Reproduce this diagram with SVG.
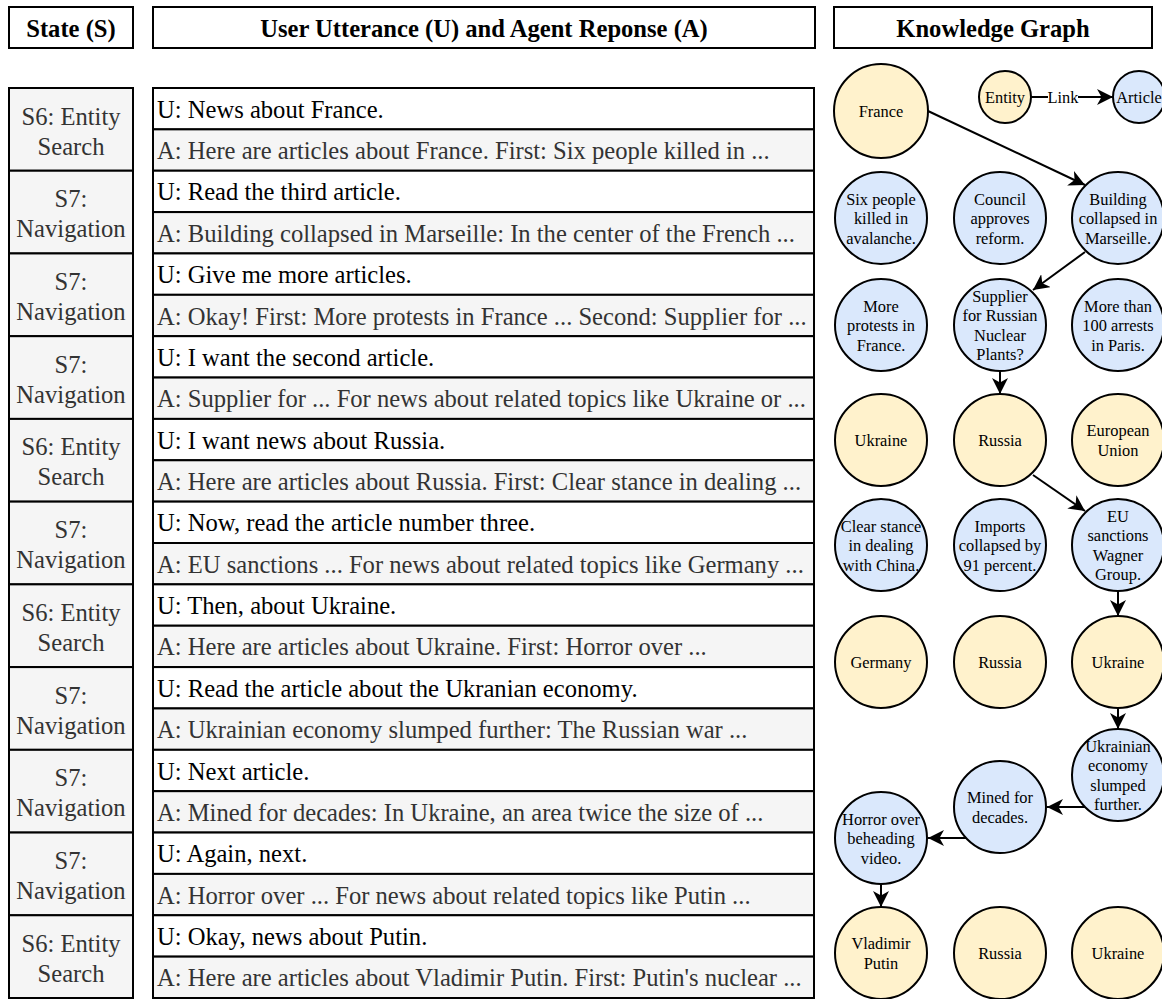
<svg xmlns="http://www.w3.org/2000/svg" width="1162" height="999" viewBox="0 0 1162 999" font-family="'Liberation Serif', 'Times New Roman', Times, 'DejaVu Serif', serif">
<defs>
<marker id="arr" viewBox="0 0 16 16" markerWidth="16" markerHeight="16" refX="16" refY="8" orient="auto" markerUnits="userSpaceOnUse">
<path d="M0,0 L16,8 L0,16 L4.5,8 Z" fill="#000"/>
</marker>
</defs>
<style>
text{font-family:'Liberation Serif','Times New Roman',Times,'DejaVu Serif',serif}
.hdr{fill:#fff;stroke:#000;stroke-width:2}
.ht{font-size:24.6px;font-weight:bold;fill:#000;text-anchor:middle;dominant-baseline:central}
.st{fill:#f5f5f5;stroke:#000;stroke-width:2}
.stt{font-size:24.6px;fill:#333;text-anchor:middle;dominant-baseline:central}
.u{fill:#fff;stroke:#000;stroke-width:2}
.a{fill:#f5f5f5;stroke:#000;stroke-width:2}
.ut{font-size:24.6px;fill:#000;dominant-baseline:central}
.at{font-size:24.6px;fill:#333;dominant-baseline:central}
.ent{fill:#fff2cc;stroke:#000;stroke-width:2}
.art{fill:#dae8fc;stroke:#000;stroke-width:2}
.ct{font-size:16.4px;fill:#000;text-anchor:middle;dominant-baseline:central}
.edge{stroke:#000;stroke-width:2;fill:none;marker-end:url(#arr)}
</style>
<rect width="1162" height="999" fill="#fff"/>

<g id="headers">
<rect class="hdr" x="9" y="7" width="124" height="41"/>
<text class="ht" x="71" y="28">State (S)</text>
<rect class="hdr" x="153" y="7" width="662" height="41"/>
<text class="ht" x="484" y="28">User Utterance (U) and Agent Reponse (A)</text>
<rect class="hdr" x="834" y="7" width="318" height="41"/>
<text class="ht" x="993" y="28">Knowledge Graph</text>
</g>

<g id="states">
<g id="state1"><rect class="st" x="9" y="88" width="124" height="82.73"/><text class="stt" x="71" y="116">S6: Entity</text><text class="stt" x="71" y="146">Search</text></g>
<g id="state2"><rect class="st" x="9" y="170.73" width="124" height="82.73"/><text class="stt" x="71" y="198.7">S7:</text><text class="stt" x="71" y="228.7">Navigation</text></g>
<g id="state3"><rect class="st" x="9" y="253.45" width="124" height="82.73"/><text class="stt" x="71" y="281.4">S7:</text><text class="stt" x="71" y="311.4">Navigation</text></g>
<g id="state4"><rect class="st" x="9" y="336.18" width="124" height="82.73"/><text class="stt" x="71" y="364.1">S7:</text><text class="stt" x="71" y="394.1">Navigation</text></g>
<g id="state5"><rect class="st" x="9" y="418.91" width="124" height="82.73"/><text class="stt" x="71" y="446.9">S6: Entity</text><text class="stt" x="71" y="476.9">Search</text></g>
<g id="state6"><rect class="st" x="9" y="501.64" width="124" height="82.73"/><text class="stt" x="71" y="529.6">S7:</text><text class="stt" x="71" y="559.6">Navigation</text></g>
<g id="state7"><rect class="st" x="9" y="584.36" width="124" height="82.73"/><text class="stt" x="71" y="612.3">S6: Entity</text><text class="stt" x="71" y="642.3">Search</text></g>
<g id="state8"><rect class="st" x="9" y="667.09" width="124" height="82.73"/><text class="stt" x="71" y="695.1">S7:</text><text class="stt" x="71" y="725.1">Navigation</text></g>
<g id="state9"><rect class="st" x="9" y="749.82" width="124" height="82.73"/><text class="stt" x="71" y="777.8">S7:</text><text class="stt" x="71" y="807.8">Navigation</text></g>
<g id="state10"><rect class="st" x="9" y="832.55" width="124" height="82.73"/><text class="stt" x="71" y="860.5">S7:</text><text class="stt" x="71" y="890.5">Navigation</text></g>
<g id="state11"><rect class="st" x="9" y="915.27" width="124" height="82.73"/><text class="stt" x="71" y="943.2">S6: Entity</text><text class="stt" x="71" y="973.2">Search</text></g>
</g>

<g id="dialogue">
<g id="r1"><rect class="u" x="153" y="88" width="661" height="41.36"/><text class="ut" x="157" y="109.2">U: News about France.</text></g>
<g id="r2"><rect class="a" x="153" y="129.36" width="661" height="41.36"/><text class="at" x="157" y="150.5">A: Here are articles about France. First: Six people killed in ...</text></g>
<g id="r3"><rect class="u" x="153" y="170.73" width="661" height="41.36"/><text class="ut" x="157" y="191.9">U: Read the third article.</text></g>
<g id="r4"><rect class="a" x="153" y="212.09" width="661" height="41.36"/><text class="at" x="157" y="233.3">A: Building collapsed in Marseille: In the center of the French ...</text></g>
<g id="r5"><rect class="u" x="153" y="253.45" width="661" height="41.36"/><text class="ut" x="157" y="274.6">U: Give me more articles.</text></g>
<g id="r6"><rect class="a" x="153" y="294.82" width="661" height="41.36"/><text class="at" x="157" y="316">A: Okay! First: More protests in France ... Second: Supplier for ...</text></g>
<g id="r7"><rect class="u" x="153" y="336.18" width="661" height="41.36"/><text class="ut" x="157" y="357.4">U: I want the second article.</text></g>
<g id="r8"><rect class="a" x="153" y="377.55" width="661" height="41.36"/><text class="at" x="157" y="398.7">A: Supplier for ... For news about related topics like Ukraine or ...</text></g>
<g id="r9"><rect class="u" x="153" y="418.91" width="661" height="41.36"/><text class="ut" x="157" y="440.1">U: I want news about Russia.</text></g>
<g id="r10"><rect class="a" x="153" y="460.27" width="661" height="41.36"/><text class="at" x="157" y="481.5">A: Here are articles about Russia. First: Clear stance in dealing ...</text></g>
<g id="r11"><rect class="u" x="153" y="501.64" width="661" height="41.36"/><text class="ut" x="157" y="522.8">U: Now, read the article number three.</text></g>
<g id="r12"><rect class="a" x="153" y="543.0" width="661" height="41.36"/><text class="at" x="157" y="564.2">A: EU sanctions ... For news about related topics like Germany ...</text></g>
<g id="r13"><rect class="u" x="153" y="584.36" width="661" height="41.36"/><text class="ut" x="157" y="605.5">U: Then, about Ukraine.</text></g>
<g id="r14"><rect class="a" x="153" y="625.73" width="661" height="41.36"/><text class="at" x="157" y="646.9">A: Here are articles about Ukraine. First: Horror over ...</text></g>
<g id="r15"><rect class="u" x="153" y="667.09" width="661" height="41.36"/><text class="ut" x="157" y="688.3">U: Read the article about the Ukranian economy.</text></g>
<g id="r16"><rect class="a" x="153" y="708.45" width="661" height="41.36"/><text class="at" x="157" y="729.6">A: Ukrainian economy slumped further: The Russian war ...</text></g>
<g id="r17"><rect class="u" x="153" y="749.82" width="661" height="41.36"/><text class="ut" x="157" y="771">U: Next article.</text></g>
<g id="r18"><rect class="a" x="153" y="791.18" width="661" height="41.36"/><text class="at" x="157" y="812.4">A: Mined for decades: In Ukraine, an area twice the size of ...</text></g>
<g id="r19"><rect class="u" x="153" y="832.55" width="661" height="41.36"/><text class="ut" x="157" y="853.7">U: Again, next.</text></g>
<g id="r20"><rect class="a" x="153" y="873.91" width="661" height="41.36"/><text class="at" x="157" y="895.1">A: Horror over ... For news about related topics like Putin ...</text></g>
<g id="r21"><rect class="u" x="153" y="915.27" width="661" height="41.36"/><text class="ut" x="157" y="936.5">U: Okay, news about Putin.</text></g>
<g id="r22"><rect class="a" x="153" y="956.64" width="661" height="41.36"/><text class="at" x="157" y="977.8">A: Here are articles about Vladimir Putin. First: Putin's nuclear ...</text></g>
</g>

<g id="connectors">
<line class="edge" x1="1031" y1="97" x2="1113" y2="97"/>
<line class="edge" x1="928" y1="111" x2="1085" y2="185"/>
<line class="edge" x1="1085" y1="252" x2="1033" y2="290"/>
<line class="edge" x1="1000" y1="371" x2="1000" y2="394"/>
<line class="edge" x1="1033" y1="475" x2="1085" y2="511"/>
<line class="edge" x1="1118" y1="591" x2="1118" y2="616"/>
<line class="edge" x1="1118" y1="708" x2="1118" y2="729"/>
<line class="edge" x1="1085" y1="807" x2="1047" y2="807"/>
<line class="edge" x1="966" y1="838" x2="928" y2="838"/>
<line class="edge" x1="881" y1="884" x2="881" y2="907"/>
<rect x="1048" y="87" width="30" height="20" fill="#fff"/>
<text class="ct" x="1063" y="97">Link</text>
</g>

<g id="legend-entity"><circle class="ent" cx="1005" cy="97" r="26"/><text class="ct" x="1005" y="97">Entity</text></g>
<g id="legend-article"><circle class="art" cx="1139" cy="97" r="26"/><text class="ct" x="1139" y="97">Article</text></g>

<g id="n-france"><circle class="ent" cx="881" cy="111" r="47"/><text class="ct" x="881" y="111">France</text></g>

<g id="n-six"><circle class="art" cx="881" cy="218" r="46"/><text class="ct" x="881"><tspan x="881" y="198.5">Six people</tspan><tspan x="881" y="218">killed in</tspan><tspan x="881" y="237.5">avalanche.</tspan></text></g>
<g id="n-council"><circle class="art" cx="1000" cy="218" r="46"/><text class="ct" x="1000"><tspan x="1000" y="198.5">Council</tspan><tspan x="1000" y="218">approves</tspan><tspan x="1000" y="237.5">reform.</tspan></text></g>
<g id="n-building"><circle class="art" cx="1118" cy="218" r="46"/><text class="ct" x="1118"><tspan x="1118" y="198.5">Building</tspan><tspan x="1118" y="218">collapsed in</tspan><tspan x="1118" y="237.5">Marseille.</tspan></text></g>

<g id="n-protests"><circle class="art" cx="881" cy="325" r="46"/><text class="ct" x="881"><tspan x="881" y="305.5">More</tspan><tspan x="881" y="325">protests in</tspan><tspan x="881" y="344.5">France.</tspan></text></g>
<g id="n-supplier"><circle class="art" cx="1000" cy="325" r="46"/><text class="ct" x="1000"><tspan x="1000" y="295.5">Supplier</tspan><tspan x="1000" y="315">for Russian</tspan><tspan x="1000" y="334.5">Nuclear</tspan><tspan x="1000" y="354">Plants?</tspan></text></g>
<g id="n-arrests"><circle class="art" cx="1118" cy="325" r="46"/><text class="ct" x="1118"><tspan x="1118" y="305.5">More than</tspan><tspan x="1118" y="325">100 arrests</tspan><tspan x="1118" y="344.5">in Paris.</tspan></text></g>

<g id="n-ukraine1"><circle class="ent" cx="881" cy="440" r="46"/><text class="ct" x="881" y="440">Ukraine</text></g>
<g id="n-russia1"><circle class="ent" cx="1000" cy="440" r="46"/><text class="ct" x="1000" y="440">Russia</text></g>
<g id="n-eu"><circle class="ent" cx="1118" cy="440" r="46"/><text class="ct" x="1118"><tspan x="1118" y="430">European</tspan><tspan x="1118" y="450">Union</tspan></text></g>

<g id="n-clear"><circle class="art" cx="881" cy="545" r="46"/><text class="ct" x="881"><tspan x="881" y="525.5">Clear stance</tspan><tspan x="881" y="545">in dealing</tspan><tspan x="881" y="564.5">with China.</tspan></text></g>
<g id="n-imports"><circle class="art" cx="1000" cy="545" r="46"/><text class="ct" x="1000"><tspan x="1000" y="525.5">Imports</tspan><tspan x="1000" y="545">collapsed by</tspan><tspan x="1000" y="564.5">91 percent.</tspan></text></g>
<g id="n-sanctions"><circle class="art" cx="1118" cy="545" r="46"/><text class="ct" x="1118"><tspan x="1118" y="515.5">EU</tspan><tspan x="1118" y="535">sanctions</tspan><tspan x="1118" y="554.5">Wagner</tspan><tspan x="1118" y="574">Group.</tspan></text></g>

<g id="n-germany"><circle class="ent" cx="881" cy="662" r="46"/><text class="ct" x="881" y="662">Germany</text></g>
<g id="n-russia2"><circle class="ent" cx="1000" cy="662" r="46"/><text class="ct" x="1000" y="662">Russia</text></g>
<g id="n-ukraine2"><circle class="ent" cx="1118" cy="662" r="46"/><text class="ct" x="1118" y="662">Ukraine</text></g>

<g id="n-economy"><circle class="art" cx="1118" cy="775" r="46"/><text class="ct" x="1118"><tspan x="1118" y="745.5">Ukrainian</tspan><tspan x="1118" y="765">economy</tspan><tspan x="1118" y="784.5">slumped</tspan><tspan x="1118" y="804">further.</tspan></text></g>
<g id="n-mined"><circle class="art" cx="1000" cy="807" r="46"/><text class="ct" x="1000"><tspan x="1000" y="797">Mined for</tspan><tspan x="1000" y="817">decades.</tspan></text></g>
<g id="n-horror"><circle class="art" cx="881" cy="838" r="46"/><text class="ct" x="881"><tspan x="881" y="818.5">Horror over</tspan><tspan x="881" y="838">beheading</tspan><tspan x="881" y="857.5">video.</tspan></text></g>

<g id="n-putin"><circle class="ent" cx="881" cy="953" r="46"/><text class="ct" x="881"><tspan x="881" y="943">Vladimir</tspan><tspan x="881" y="963">Putin</tspan></text></g>
<g id="n-russia3"><circle class="ent" cx="1000" cy="953" r="46"/><text class="ct" x="1000" y="953">Russia</text></g>
<g id="n-ukraine3"><circle class="ent" cx="1118" cy="953" r="46"/><text class="ct" x="1118" y="953">Ukraine</text></g>
</svg>
